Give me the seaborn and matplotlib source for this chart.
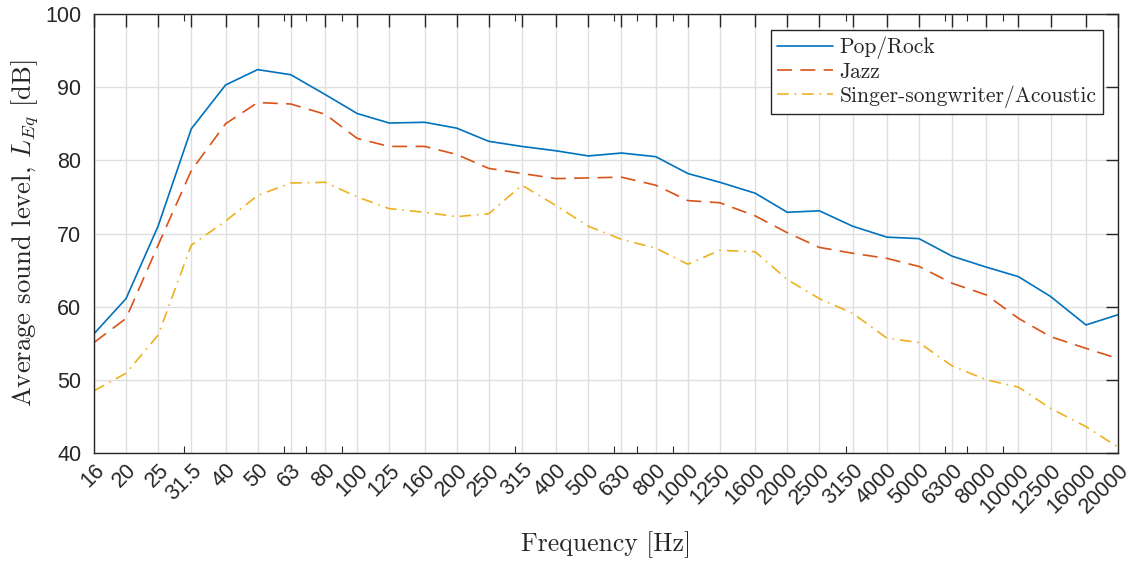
import numpy as np
import pandas as pd
import matplotlib
matplotlib.use("Agg")
import matplotlib.pyplot as plt
import matplotlib.ticker as mticker
import seaborn as sns

freq_labels = ["16", "20", "25", "31.5", "40", "50", "63", "80", "100", "125", "160",
               "200", "250", "315", "400", "500", "630", "800", "1000", "1250", "1600",
               "2000", "2500", "3150", "4000", "5000", "6300", "8000", "10000", "12500",
               "16000", "20000"]
freqs = [16, 20, 25, 31.5, 40, 50, 63, 80, 100, 125, 160, 200, 250, 315, 400, 500, 630,
         800, 1000, 1250, 1600, 2000, 2500, 3150, 4000, 5000, 6300, 8000, 10000, 12500,
         16000, 20000]

pop_rock = [56.3, 61.1, 71.0, 84.3, 90.3, 92.4, 91.7, 89.0, 86.4, 85.1, 85.2, 84.4,
            82.6, 81.9, 81.3, 80.6, 81.0, 80.5, 78.2, 77.0, 75.5, 72.9, 73.1, 71.0,
            69.5, 69.3, 66.9, 65.4, 64.1, 61.4, 57.5, 58.9]
jazz = [55.1, 58.4, 68.4, 78.6, 85.0, 87.9, 87.7, 86.3, 83.0, 81.9, 81.9, 80.8,
        78.9, 78.2, 77.5, 77.6, 77.7, 76.6, 74.5, 74.2, 72.4, 70.1, 68.1, 67.3,
        66.6, 65.5, 63.2, 61.6, 58.4, 55.9, 54.3, 52.9]
acoustic = [48.5, 50.9, 56.1, 68.4, 71.7, 75.2, 76.9, 77.0, 75.0, 73.4, 72.9, 72.3,
            72.7, 76.6, 73.8, 71.0, 69.2, 68.0, 65.8, 67.7, 67.5, 63.7, 61.1, 59.1,
            55.7, 55.1, 51.9, 50.0, 49.0, 46.1, 43.6, 40.8]

series_names = ["Pop/Rock", "Jazz", "Singer-songwriter/Acoustic"]
series_vals = [pop_rock, jazz, acoustic]
colors = ["#0072BD", "#D95319", "#EDB120"]
styles = ["-", (0, (9, 5)), (0, (7, 3.5, 1, 3.5))]

yticks = [40, 50, 60, 70, 80, 90, 100]

sns.set_style("white")
plt.rcParams["font.family"] = ["Liberation Sans", "DejaVu Sans"]
plt.rcParams["mathtext.fontset"] = "cm"

fig = plt.figure(figsize=(11.38, 5.65), dpi=100)
ax = fig.add_axes([94 / 1138, 1 - 453 / 565, (1118 - 94) / 1138, (453 - 14) / 565])

for name, vals, c, ls in zip(series_names, series_vals, colors, styles):
    df = pd.DataFrame({"freq": freqs, "level": vals})
    sns.lineplot(data=df, x="freq", y="level", ax=ax, color=c, linestyle=ls,
                 linewidth=1.2, label=name)

ax.set_xscale("log")
ax.set_xlim(16, 20000)
ax.set_ylim(40, 100)
ax.xaxis.set_major_locator(mticker.FixedLocator(freqs))
ax.xaxis.set_major_formatter(mticker.FixedFormatter(freq_labels))
ax.xaxis.set_minor_locator(mticker.LogLocator(base=10, subs=np.arange(2, 10)))
ax.xaxis.set_minor_formatter(mticker.NullFormatter())
ax.set_yticks(yticks)
ax.set_yticklabels([str(v) for v in yticks])

ax.grid(True, which="major", color="#dfdfdf", linewidth=1.0)
ax.set_axisbelow(True)
ax.tick_params(axis="both", which="major", direction="in", length=9, width=1,
               top=True, right=True, labelsize=15.5, color="#262626", labelcolor="#262626")
ax.tick_params(axis="x", which="minor", direction="in", length=5, width=0.8,
               top=True, bottom=True, color="#262626")
ax.tick_params(axis="x", which="major", pad=5)
ax.tick_params(axis="y", which="major", pad=9)
for lbl in ax.get_xticklabels():
    lbl.set_rotation(45)
    lbl.set_ha("right")
    lbl.set_rotation_mode("anchor")
for s in ax.spines.values():
    s.set_color("#262626")
    s.set_linewidth(1.0)

ax.set_xlabel("Frequency [Hz]", fontfamily="cmr10", fontsize=18.5, color="#262626", labelpad=10)
ax.set_ylabel(r"Average sound level, $L_{Eq}$ [dB]", fontfamily="cmr10", fontsize=19.2,
              color="#262626", labelpad=3)

leg = ax.legend(loc="upper right", bbox_to_anchor=(0.9855, 0.963), prop={"family": "cmr10", "size": 15.5},
                frameon=True, fancybox=False, edgecolor="#262626", framealpha=1,
                handlelength=2.6, handletextpad=0.3, labelspacing=0.15, borderpad=0.3,
                borderaxespad=0.0)
leg.get_frame().set_linewidth(1.0)

fig.savefig("out.png", dpi=100)
